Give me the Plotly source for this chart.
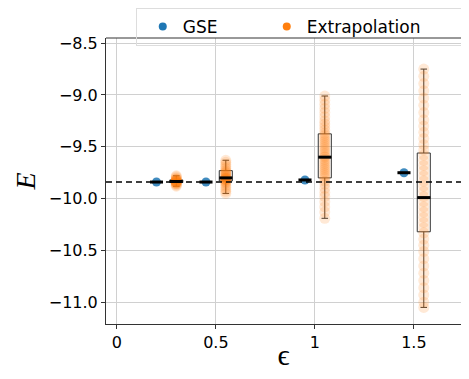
import plotly.graph_objects as go

# ---- data ----
eps = [0.25, 0.5, 1.0, 1.5]
offset = 0.05
ground_state = -9.84

gse_values = [-9.84, -9.84, -9.82, -9.75]

ext_q1 = [-9.845, -9.83, -9.80, -10.32]
ext_median = [-9.835, -9.80, -9.60, -9.99]
ext_q3 = [-9.82, -9.73, -9.375, -9.56]
ext_low = [-9.88, -9.95, -10.19, -11.05]
ext_high = [-9.78, -9.63, -9.01, -8.75]

ext_samples_0 = [-9.78, -9.79, -9.80, -9.81, -9.815, -9.82, -9.825, -9.83, -9.83, -9.835, -9.835,
                 -9.84, -9.84, -9.845, -9.85, -9.855, -9.86, -9.87, -9.88]
ext_samples_1 = [-9.63, -9.65, -9.67, -9.69, -9.71, -9.73, -9.74, -9.75, -9.76, -9.77, -9.78, -9.79,
                 -9.80, -9.80, -9.81, -9.81, -9.82, -9.82, -9.83, -9.84, -9.85, -9.87, -9.89,
                 -9.91, -9.93, -9.95]
ext_samples_2 = [-9.01, -9.05, -9.09, -9.13, -9.17, -9.21, -9.25, -9.28, -9.31, -9.34, -9.37, -9.39,
                 -9.41, -9.43, -9.45, -9.47, -9.49, -9.51, -9.53, -9.55, -9.57, -9.59, -9.60,
                 -9.62, -9.64, -9.66, -9.68, -9.70, -9.72, -9.74, -9.76, -9.78, -9.80, -9.83,
                 -9.86, -9.90, -9.94, -9.98, -10.03, -10.08, -10.13, -10.19]
ext_samples_3 = [-8.75, -8.82, -8.89, -8.96, -9.03, -9.10, -9.17, -9.24, -9.30, -9.36, -9.42, -9.48,
                 -9.53, -9.58, -9.63, -9.68, -9.73, -9.78, -9.83, -9.88, -9.93, -9.98, -10.03,
                 -10.08, -10.13, -10.18, -10.23, -10.28, -10.33, -10.39, -10.45, -10.51, -10.58,
                 -10.65, -10.72, -10.79, -10.86, -10.93, -11.00, -11.05]
ext_samples = [ext_samples_0, ext_samples_1, ext_samples_2, ext_samples_3]

BLUE = "#1f77b4"
ORANGE = "#ff7f0e"
box_w = 0.066

gse_x = [e - offset for e in eps]
ext_x = [e + offset for e in eps]

fig = go.Figure()

# orange sample clouds
for xv, samples in zip(ext_x, ext_samples):
    fig.add_trace(go.Scatter(
        x=[xv] * len(samples), y=samples, mode="markers",
        marker=dict(color=ORANGE, size=11, opacity=0.17, line=dict(width=0)),
        showlegend=False, hoverinfo="skip"))

# extrapolation boxes
fig.add_trace(go.Box(
    x=ext_x, q1=ext_q1, median=ext_median, q3=ext_q3,
    lowerfence=ext_low, upperfence=ext_high,
    width=box_w, whiskerwidth=0.5,
    line=dict(color="#333333", width=1),
    fillcolor="rgba(0,0,0,0)", showlegend=False, boxpoints=False))

# GSE dots
fig.add_trace(go.Scatter(
    x=gse_x, y=gse_values, mode="markers",
    marker=dict(color=BLUE, size=9, opacity=0.85, line=dict(width=0)),
    showlegend=False))

# legend proxies
fig.add_trace(go.Scatter(x=[None], y=[None], mode="markers", name="GSE",
                         marker=dict(color=BLUE, size=8), legendwidth=73))
fig.add_trace(go.Scatter(x=[None], y=[None], mode="markers", name="Extrapolation",
                         marker=dict(color=ORANGE, size=8), legendwidth=154))

shapes = []
# ground-state line
shapes.append(dict(type="line", xref="paper", x0=0, x1=1, yref="y",
                   y0=ground_state, y1=ground_state,
                   line=dict(color="black", width=1.6, dash="6px,4px"), layer="above"))
# thick median bars
for xv, m in zip(ext_x, ext_median):
    shapes.append(dict(type="line", xref="x", yref="y", x0=xv - box_w / 2, x1=xv + box_w / 2,
                       y0=m, y1=m, line=dict(color="black", width=3), layer="above"))
for xv, m in zip(gse_x, gse_values):
    shapes.append(dict(type="line", xref="x", yref="y", x0=xv - box_w / 2, x1=xv + box_w / 2,
                       y0=m, y1=m, line=dict(color="black", width=3), layer="above"))

# the page body adds an 8px margin; size the figure so nothing overflows the window
fig.update_layout(
    width=453, height=363,
    margin=dict(l=98, r=0, t=30, b=47, autoexpand=False),
    paper_bgcolor="white", plot_bgcolor="white",
    font=dict(family="DejaVu Sans", size=16, color="black"),
    shapes=shapes,
    showlegend=True,
    legend=dict(orientation="h", x=0.55, xanchor="center", y=1.105, yanchor="top",
                bordercolor="#dddddd", borderwidth=1, bgcolor="rgba(255,255,255,0)",
                font=dict(size=17), itemwidth=30, indentation=6),
    xaxis=dict(range=[-0.055, 1.738], tickvals=[0, 0.5, 1, 1.5], ticktext=["0", "0.5", "1", "1.5"],
               showgrid=True, gridcolor="#d0d0d0", gridwidth=1,
               showline=True, linecolor="#333333", linewidth=1, mirror=False,
               ticks="outside", ticklen=4, tickcolor="#333333", zeroline=False,
               automargin=False,
               title=dict(text="ϵ", font=dict(family="Liberation Serif", size=30), standoff=0)),
    yaxis=dict(range=[-11.21, -8.45], tickvals=[-8.5, -9.0, -9.5, -10.0, -10.5, -11.0],
               tickformat=".1f", automargin=False,
               showgrid=True, gridcolor="#d0d0d0", gridwidth=1,
               showline=True, linecolor="#333333", linewidth=1,
               ticks="outside", ticklen=4, tickcolor="#333333", zeroline=False,
               title=dict(text="<i>E</i>", font=dict(family="Liberation Serif", size=28), standoff=4)),
)
# top spine
fig.add_shape(type="line", xref="paper", yref="paper", x0=0, x1=1, y0=1, y1=1,
              line=dict(color="#333333", width=1))

fig.write_html("out.html")
